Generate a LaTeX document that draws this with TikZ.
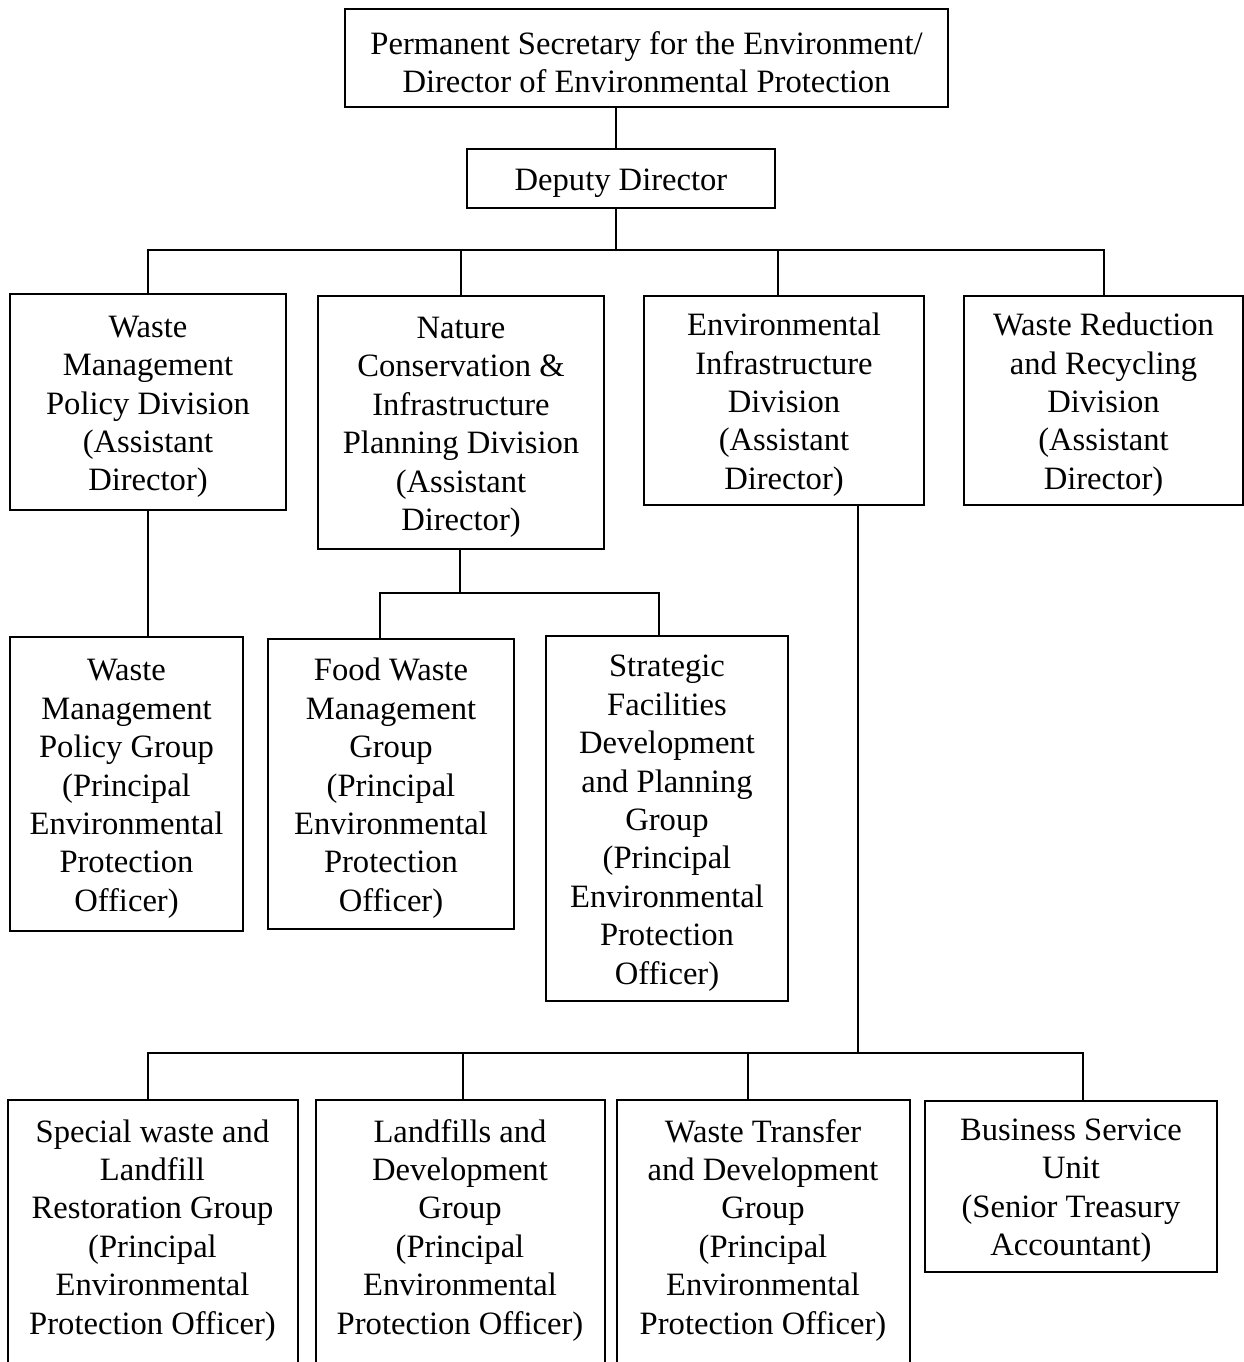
\documentclass[tikz,border=0pt]{standalone}
\usepackage{fontspec}
\setmainfont{Liberation Serif}
\usepackage{tikz}

\tikzset{
  unit/.style={draw, line width=1pt, align=flush center, inner sep=0pt,
    execute at begin node={\rule{0pt}{15.5pt}}},
  tallunit/.style={unit, anchor=north, inner ysep=5.5pt},
  link/.style={line width=1pt}
}

\begin{document}
\begin{tikzpicture}[x=0.5pt,y=0.5pt,font=\fontsize{16.3}{19.2}\selectfont]
\useasboundingbox (0,0) rectangle (1244,-1362);
\node [unit, minimum width=301.5pt, text width=299pt, minimum height=49pt] (sec) at (646.5,-58) {Permanent Secretary for the Environment/\\Director of Environmental Protection};
\node [unit, minimum width=154pt, text width=150pt, minimum height=29.5pt] (dep) at (621,-178.5) {Deputy Director};
\node [unit, minimum width=138pt, text width=134pt, minimum height=108pt] (wmpd) at (148,-402) {Waste\\Management\\Policy Division\\(Assistant\\Director)};
\node [unit, minimum width=143pt, text width=139pt, minimum height=126.5pt] (ncipd) at (461,-422.5) {Nature\\Conservation \&\\Infrastructure\\Planning Division\\(Assistant\\Director)};
\node [unit, minimum width=140pt, text width=136pt, minimum height=104.5pt] (eid) at (784,-400.5) {Environmental\\Infrastructure\\Division\\(Assistant\\Director)};
\node [unit, minimum width=139.5pt, text width=136pt, minimum height=104.5pt] (wrrd) at (1103.5,-400.5) {Waste Reduction\\and Recycling\\Division\\(Assistant\\Director)};
\node [unit, minimum width=116.5pt, text width=113pt, minimum height=147pt] (wmpg) at (126.5,-784) {Waste\\Management\\Policy Group\\(Principal\\Environmental\\Protection\\Officer)};
\node [unit, minimum width=123pt, text width=119pt, minimum height=145pt] (fwmg) at (391,-784) {Food Waste\\Management\\Group\\(Principal\\Environmental\\Protection\\Officer)};
\node [unit, minimum width=121pt, text width=117pt, minimum height=182.5pt] (sfdpg) at (667,-818.5) {Strategic\\Facilities\\Development\\and Planning\\Group\\(Principal\\Environmental\\Protection\\Officer)};
\node [tallunit, minimum width=145pt, text width=140pt] (swlrg) at (152.5,-1099) {Special waste and\\Landfill\\Restoration Group\\(Principal\\Environmental\\Protection Officer)\rule[-60pt]{0pt}{1pt}};
\node [tallunit, minimum width=144.5pt, text width=140pt] (ldg) at (460,-1099) {Landfills and\\Development\\Group\\(Principal\\Environmental\\Protection Officer)\rule[-60pt]{0pt}{1pt}};
\node [tallunit, minimum width=146.5pt, text width=140pt] (wtdg) at (763,-1099) {Waste Transfer\\and Development\\Group\\(Principal\\Environmental\\Protection Officer)\rule[-60pt]{0pt}{1pt}};
\node [unit, minimum width=146pt, text width=142pt, minimum height=85.5pt] (bsu) at (1071,-1186) {Business Service\\Unit\\(Senior Treasury\\Accountant)};
\coordinate (bus1) at (616,-250);
\coordinate (bus2) at (460,-593);
\coordinate (bus3) at (858,-1053);
\draw [link] (bus1 |- sec.south) -- (bus1 |- dep.north);
\draw [link] (bus1 |- dep.south) -- (bus1);
\draw [link] (wmpd.north) |- (bus1) -| (wrrd.north);
\draw [link] (ncipd.north) -- (ncipd.north |- bus1);
\draw [link] ([xshift=-3pt]eid.north) -- ([xshift=-3pt]eid.north |- bus1);
\draw [link] (wmpd.south) -- (wmpd.south |- wmpg.north);
\draw [link] (bus2 |- ncipd.south) -- (bus2);
\draw [link] ([xshift=-5.5pt]fwmg.north) |- (bus2) -| ([xshift=-4.25pt]sfdpg.north);
\draw [link] (bus3 |- eid.south) -- (bus3);
\draw [link] ([xshift=-2.25pt]swlrg.north) |- (bus3) -| ([xshift=6pt]bsu.north);
\draw [link] ([xshift=1.5pt]ldg.north) -- ([xshift=1.5pt]ldg.north |- bus3);
\draw [link] ([xshift=-7.5pt]wtdg.north) -- ([xshift=-7.5pt]wtdg.north |- bus3);
\end{tikzpicture}
\end{document}
